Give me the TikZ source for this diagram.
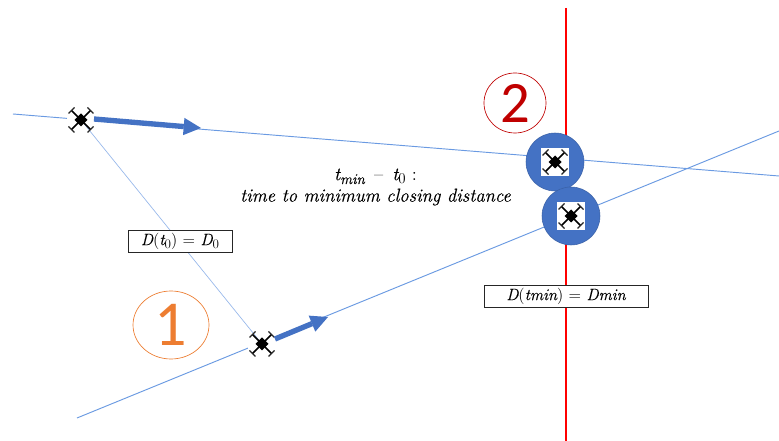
\documentclass[tikz,border=0pt]{standalone}
\usepackage{fontspec}
\usepackage{amsmath}
\newfontfamily\numfont{Carlito}
\newfontfamily\mathish[AutoFakeBold=1.2,ItalicFeatures={FakeBold=0.35}]{Latin Modern Roman}
\usetikzlibrary{arrows.meta,shapes.geometric}
\definecolor{bluefill}{HTML}{4472C4}
\definecolor{thinblue}{HTML}{6A9AE2}
\definecolor{orangeone}{HTML}{ED7D31}
\definecolor{redtwo}{HTML}{C00000}
\newcommand{\mi}[1]{{\mathish\itshape #1}}
\newcommand{\lowidx}[1]{\raisebox{-0.2em}{\scalebox{0.8}{#1}}}
\tikzset{
  x=0.75pt,y=-0.75pt,
  pathline/.style={draw=thinblue,line width=0.7pt},
  linkline/.style={draw=thinblue!70,line width=0.5pt},
  motion/.style={draw=bluefill,line width=4pt,-{Triangle[length=13pt,width=13pt,line width=0pt,sep=0pt]}},
  wbox/.style={fill=white,minimum size=21pt,inner sep=0pt,outer sep=0pt},
  disc/.style={circle,fill=bluefill,draw=bluefill!85!black,line width=0.4pt,minimum size=43.5pt,inner sep=0pt},
  lab/.style={draw=black!85,fill=white,line width=0.7pt,inner sep=0pt,font=\fontsize{12.3}{14}\selectfont},
  numring/.style={ellipse,draw,line width=0.5pt,inner sep=0pt},
  drone/.pic={
    \draw[black,line width=1.2pt] (-9.5,-9.5) -- (9.5,9.5) (-9.5,9.5) -- (9.5,-9.5);
    \fill[black] (-6.5,0) -- (0,-6.5) -- (6.5,0) -- (0,6.5) -- cycle;
    \foreach \sx/\sy in {1/1,1/-1,-1/1,-1/-1}{
      \draw[black!85,line width=0.9pt] (\sx*12.5,\sy*6.5) -- (\sx*6.5,\sy*12.5);
    }
  }
}
\begin{document}
\begin{tikzpicture}
\useasboundingbox (0,0) rectangle (779,441);
\fill[white] (0,0) rectangle (779,441);
% free ends
\coordinate (topL) at (13,114);
\coordinate (topR) at (779,176);
\coordinate (lowL) at (77,418);
\coordinate (lowR) at (779,131);
\coordinate (redT) at (566,8);
\coordinate (redB) at (566,441);
\coordinate (a1s) at (94,119);
\coordinate (a1e) at (201,128);
\coordinate (a2s) at (275,339);
\coordinate (a2e) at (328,317);
% trajectories
\draw[pathline] (topL) -- (topR);
\draw[pathline] (lowL) -- (lowR);
\draw[red,line width=1.6pt] (redT) -- (redB);
% small drones
\node[wbox] (d1) at (81,120) {};
\node[wbox] (d2) at (262,344) {};
\draw[linkline,shorten <=3pt,shorten >=3pt] (d1.center) -- (d2.center);
\pic at (d1.center) {drone};
\pic at (d2.center) {drone};
% velocity arrows
\draw[motion] (a1s) -- (a1e);
\draw[motion] (a2s) -- (a2e);
% closest approach discs
\node[disc] (c1) at (555,162) {};
\node[disc] (c2) at (571,216) {};
\node[fill=white,minimum size=21pt,inner sep=0pt] (w1) at (c1.center) {};
\node[fill=white,minimum size=21pt,inner sep=0pt] (w2) at (c2.center) {};
\pic at (w1.center) {drone};
\pic at (w2.center) {drone};
% labels
\node[lab,minimum width=78pt,minimum height=16.5pt] (l1) at (180,241) {\mi{D}({\mi{t}\lowidx{0}}) = \mi{D}\lowidx{0}};
\node[lab,minimum width=123pt,minimum height=16.5pt] (l2) at (566,296) {\mi{D}(\mi{tmin}) = \mi{Dmin}};
\node[align=center,font=\fontsize{14}{15}\selectfont,inner sep=0pt] (txt) at (375.5,187) {\mi{t}\lowidx{\mi{min}} \,--\, \mi{t}\lowidx{0} :\\[1pt]\mi{time to minimum closing distance}};
% numbered circles
\node[numring,draw=orangeone,text=orangeone,minimum width=57pt,minimum height=51pt,font=\numfont\fontsize{48}{48}\selectfont] (n1) at (171,325) {1};
\node[numring,draw=redtwo,text=redtwo,minimum width=46.5pt,minimum height=45pt,font=\numfont\fontsize{44}{44}\selectfont] (n2) at (515,103) {2};
\end{tikzpicture}
\end{document}
